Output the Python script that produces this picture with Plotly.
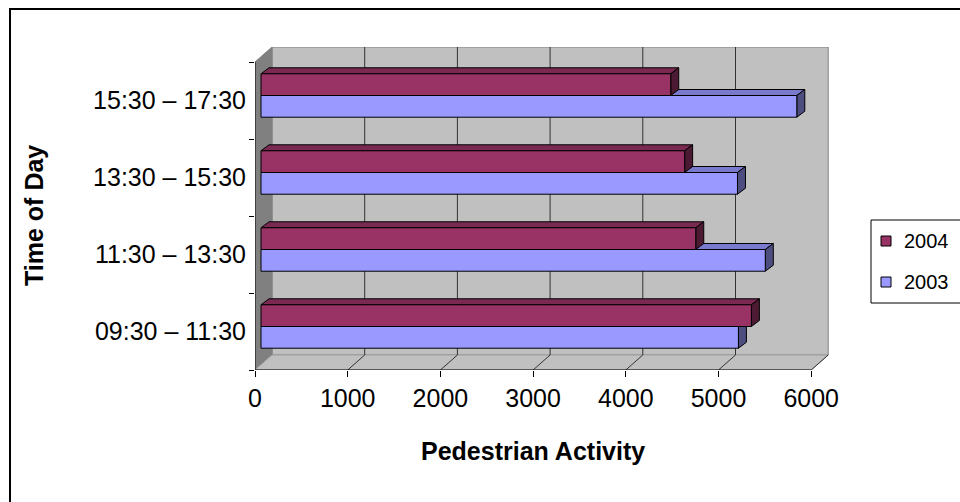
import plotly.graph_objects as go

# ---- data -------------------------------------------------------------
categories = ["09:30 – 11:30", "11:30 – 13:30", "13:30 – 15:30", "15:30 – 17:30"]
years = ["2003", "2004"]
pedestrians_2003 = [5150, 5440, 5140, 5780]
pedestrians_2004 = [5290, 4690, 4570, 4420]
x_ticks = [0, 1000, 2000, 3000, 4000, 5000, 6000]

# ---- styling ------------------------------------------------------------
front_colors = {"2003": "#9999FF", "2004": "#993366"}
top_colors = {"2003": "#7A7ACC", "2004": "#7A2951"}
side_colors = {"2003": "#4D4D80", "2004": "#4C1A33"}
FONT = "Liberation Sans, Arial, sans-serif"

W, H = 960, 502
PLOT_L, PLOT_R, PLOT_T, PLOT_B = 255, 830, 47, 370
PX_PER_X = 92.7 / 1000.0      # pixels per unit of pedestrian activity
PX_PER_CAT = 77.0             # pixels per category band

# 3-D depth offsets, in pixels (right, up)
WALL_DX, WALL_DY = 17, 15     # floor / wall depth
BAR_DX, BAR_DY = 6, 5         # front of the bars behind the front plane
FACE_DX, FACE_DY = 8, 6       # depth of each bar

BARGAP = 0.436

def ux(px):
    return px / PX_PER_X

def uy(px):
    return px / PX_PER_CAT

def paper_x(px):
    return (px - PLOT_L) / (PLOT_R - PLOT_L)

def paper_y(py):
    return (PLOT_B - py) / (PLOT_B - PLOT_T)

x_range = [0, ux(PLOT_R - PLOT_L)]
y_range = [-0.5, -0.5 + uy(PLOT_B - PLOT_T)]
x2_range = [x_range[0] - ux(BAR_DX), x_range[1] - ux(BAR_DX)]
y2_range = [y_range[0] - uy(BAR_DY), y_range[1] - uy(BAR_DY)]

positions = list(range(len(categories)))
x_max = x_ticks[-1]
y_lo, y_hi = -0.5, len(categories) - 0.5
wdx, wdy = ux(WALL_DX), uy(WALL_DY)

fig = go.Figure()

series = {"2003": pedestrians_2003, "2004": pedestrians_2004}
for name in years:
    fig.add_trace(go.Bar(
        x=series[name], y=positions, orientation="h", name=name,
        marker=dict(color=front_colors[name], line=dict(color="black", width=1)),
        xaxis="x2", yaxis="y2", showlegend=False,
    ))

shapes = []

# back wall, left wall and floor
shapes.append(dict(type="rect", xref="x", yref="y", layer="below",
                   x0=wdx, x1=x_max + wdx, y0=y_lo + wdy, y1=y_hi + wdy,
                   fillcolor="#C0C0C0", line=dict(color="#808080", width=1)))
shapes.append(dict(type="path", xref="x", yref="y", layer="below",
                   path=f"M0,{y_lo} L{wdx},{y_lo + wdy} L{wdx},{y_hi + wdy} L0,{y_hi} Z",
                   fillcolor="#808080", line=dict(color="#808080", width=1)))
shapes.append(dict(type="path", xref="x", yref="y", layer="below",
                   path=(f"M0,{y_lo} L{x_max},{y_lo} L{x_max + wdx},{y_lo + wdy} "
                         f"L{wdx},{y_lo + wdy} Z"),
                   fillcolor="#C0C0C0", line=dict(color="#A0A0A0", width=1)))

# gridlines on the back wall and across the floor
for t in x_ticks[1:]:
    if t < x_max:
        shapes.append(dict(type="line", xref="x", yref="y", layer="below",
                           x0=t + wdx, x1=t + wdx, y0=y_lo + wdy, y1=y_hi + wdy,
                           line=dict(color="#333333", width=1)))
    shapes.append(dict(type="line", xref="x", yref="y", layer="below",
                       x0=t, x1=t + wdx, y0=y_lo, y1=y_lo + wdy,
                       line=dict(color="#333333", width=1)))

# front axis lines
shapes.append(dict(type="line", xref="x", yref="y", layer="below",
                   x0=0, x1=x_max, y0=y_lo, y1=y_lo, line=dict(color="black", width=1)))
shapes.append(dict(type="line", xref="x", yref="y", layer="below",
                   x0=0, x1=0, y0=y_lo, y1=y_hi, line=dict(color="black", width=1)))

# top and end faces of every bar (2003 first so 2004 sits over it)
bar_h = (1 - BARGAP) / len(years)
fdx, fdy = ux(FACE_DX), uy(FACE_DY)
for k, name in enumerate(years):
    for pos, v in zip(positions, series[name]):
        yb = pos - (1 - BARGAP) / 2 + k * bar_h
        yt = yb + bar_h
        shapes.append(dict(type="path", xref="x2", yref="y2", layer="below",
                           path=f"M0,{yt} L{v},{yt} L{v + fdx},{yt + fdy} L{fdx},{yt + fdy} Z",
                           fillcolor=top_colors[name], line=dict(color="black", width=1)))
        shapes.append(dict(type="path", xref="x2", yref="y2", layer="below",
                           path=f"M{v},{yb} L{v + fdx},{yb + fdy} L{v + fdx},{yt + fdy} L{v},{yt} Z",
                           fillcolor=side_colors[name], line=dict(color="black", width=1)))

# chart-area border
shapes.append(dict(type="rect", xref="paper", yref="paper", layer="above",
                   x0=paper_x(10), x1=paper_x(W + 10), y0=paper_y(H + 10), y1=paper_y(9),
                   line=dict(color="black", width=2), fillcolor="rgba(0,0,0,0)"))

# legend box with swatches
LEG_L, LEG_T, LEG_B = 871, 220, 303
legend_rows = {"2004": 241, "2003": 282}
shapes.append(dict(type="rect", xref="paper", yref="paper", layer="above",
                   x0=paper_x(LEG_L), x1=paper_x(W + 20), y0=paper_y(LEG_B), y1=paper_y(LEG_T),
                   line=dict(color="black", width=1), fillcolor="white"))
annotations = []
for name in ["2004", "2003"]:
    cy = legend_rows[name]
    shapes.append(dict(type="rect", xref="paper", yref="paper", layer="above",
                       x0=paper_x(881), x1=paper_x(891), y0=paper_y(cy + 5), y1=paper_y(cy - 5),
                       fillcolor=front_colors[name], line=dict(color="black", width=1)))
    annotations.append(dict(xref="paper", yref="paper", x=paper_x(902), y=paper_y(cy),
                            xanchor="left", yanchor="middle", showarrow=False, text=name,
                            font=dict(family=FONT, size=20, color="black")))

# axis titles
annotations.append(dict(xref="x", yref="paper", x=x_max / 2, y=paper_y(451),
                        xanchor="center", yanchor="middle", showarrow=False,
                        text="<b>Pedestrian Activity</b>",
                        font=dict(family=FONT, size=25, color="black")))
annotations.append(dict(xref="paper", yref="paper", x=paper_x(34), y=paper_y(216),
                        xanchor="center", yanchor="middle", showarrow=False, textangle=-90,
                        text="<b>Time of Day</b>",
                        font=dict(family=FONT, size=25, color="black")))

fig.update_layout(
    width=W, height=H,
    margin=dict(l=PLOT_L, r=W - PLOT_R, t=PLOT_T, b=H - PLOT_B, pad=0, autoexpand=False),
    paper_bgcolor="white", plot_bgcolor="white",
    barmode="group", bargap=BARGAP, bargroupgap=0,
    showlegend=False,
    font=dict(family=FONT, size=25, color="black"),
    xaxis=dict(range=x_range, tickmode="array", tickvals=x_ticks,
               ticks="outside", ticklen=6, tickcolor="black", tickwidth=1,
               showgrid=False, zeroline=False, showline=False, automargin=False,
               tickfont=dict(family=FONT, size=25, color="black")),
    yaxis=dict(range=y_range, tickmode="array", tickvals=positions, ticktext=categories,
               ticks="", showgrid=False, zeroline=False, showline=False, automargin=False,
               ticklabelstandoff=8,
               minor=dict(tickmode="array", tickvals=[p - 0.5 for p in positions] + [y_hi],
                          ticks="outside", ticklen=5, tickcolor="black", tickwidth=1,
                          showgrid=False),
               tickfont=dict(family=FONT, size=25, color="black")),
    xaxis2=dict(range=x2_range, overlaying="x", visible=False, showgrid=False, zeroline=False),
    yaxis2=dict(range=y2_range, overlaying="y", visible=False, showgrid=False, zeroline=False),
    shapes=shapes, annotations=annotations,
)

fig.write_html("out.html")
